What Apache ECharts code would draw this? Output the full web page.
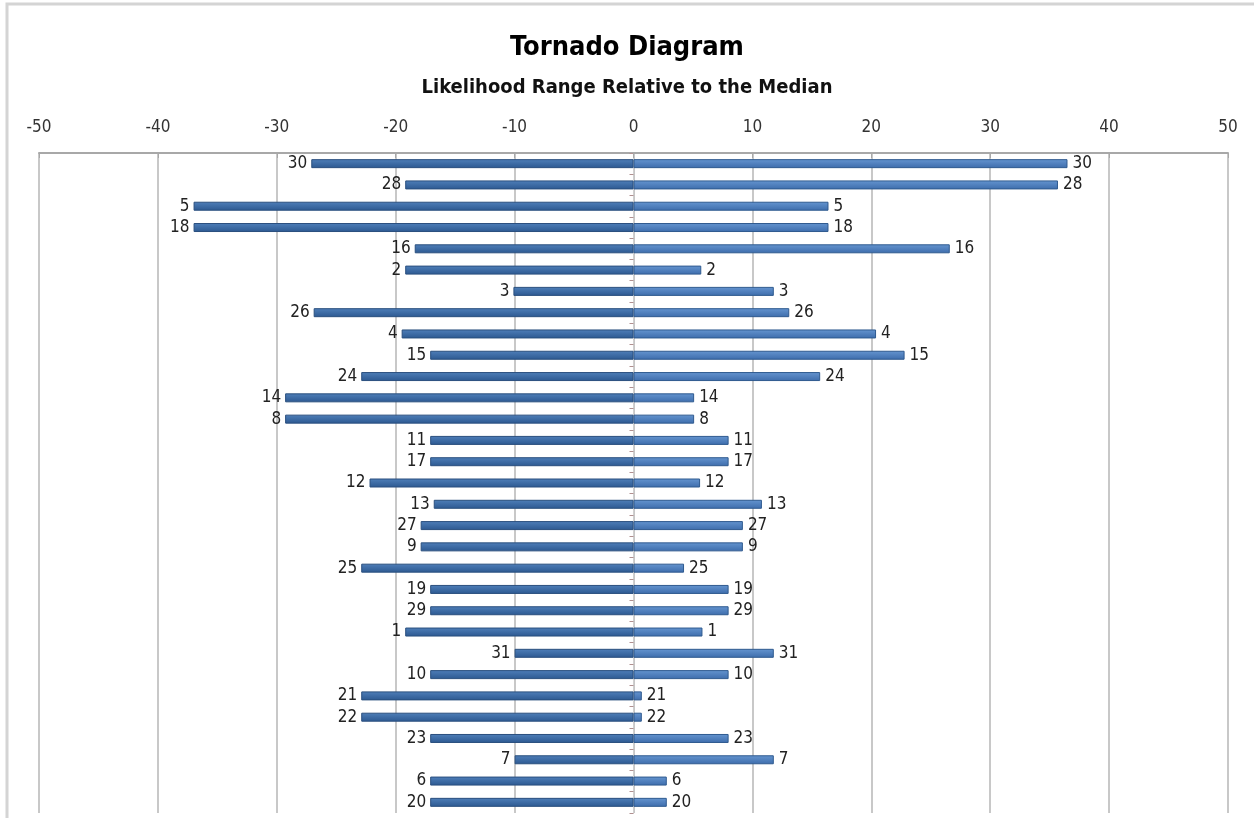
<!DOCTYPE html>
<html>
<head>
<meta charset="utf-8">
<title>Tornado Diagram</title>
<script src="https://cdn.jsdelivr.net/npm/echarts@6/dist/echarts.min.js"></script>
<style>
    html, body { margin: 0; padding: 0; background: #fff; }
    #tornado { width: 1254px; height: 818px; }
</style>
</head>
<body>
<div id="tornado"></div>
<script>
// row ids, top to bottom
var rows = ['30', '28', '5', '18', '16', '2', '3', '26', '4', '15', '24', '14', '8', '11', '17', '12',
    '13', '27', '9', '25', '19', '29', '1', '31', '10', '21', '22', '23', '7', '6', '20'];

// low side (relative to the median)
var lowValues = [-27.1, -19.2, -37.0, -37.0, -18.4, -19.2, -10.1, -26.9, -19.5, -17.1, -22.9, -29.3, -29.3, -17.1, -17.1, -22.2,
    -16.8, -17.9, -17.9, -22.9, -17.1, -17.1, -19.2, -10.0, -17.1, -22.9, -22.9, -17.1, -10.0, -17.1, -17.1];

// high side (relative to the median)
var highValues = [36.5, 35.7, 16.4, 16.4, 26.6, 5.7, 11.8, 13.1, 20.4, 22.8, 15.7, 5.1, 5.1, 8.0, 8.0, 5.6,
    10.8, 9.2, 9.2, 4.25, 8.0, 8.0, 5.8, 11.8, 8.0, 0.7, 0.7, 8.0, 11.8, 2.8, 2.8];

var axisTicks = [-50, 50, 10]; // min, max, step

document.addEventListener('DOMContentLoaded', () => {
    var chart = echarts.init(document.getElementById('tornado'));
    var font = "'DejaVu Sans Condensed', 'Liberation Sans Narrow', sans-serif";

    var option = {
        backgroundColor: '#ffffff',
        animation: false,
        textStyle: { fontFamily: font },
        // outer frame (cut off on the right and bottom, like the picture)
        graphic: [{
            type: 'rect',
            shape: { x: 7, y: 4, width: 1300, height: 900 },
            style: { fill: 'none', stroke: '#d4d4d4', lineWidth: 3 },
            silent: true
        }],
        title: [
            {
                text: 'Tornado Diagram',
                left: 'center',
                top: 29,
                textStyle: { fontSize: 27, fontWeight: 'bold', color: '#000', fontFamily: font }
            },
            {
                text: 'Likelihood Range Relative to the Median',
                left: 'center',
                top: 73,
                textStyle: { fontSize: 20, fontWeight: 'bold', color: '#111', fontFamily: font }
            }
        ],
        grid: { left: 39, right: 26, top: 153, bottom: 5 },
        xAxis: {
            type: 'value',
            position: 'top',
            min: axisTicks[0],
            max: axisTicks[1],
            interval: axisTicks[2],
            axisLine: { show: true, lineStyle: { color: '#a8a8a8', width: 2 } },
            axisTick: { show: true, inside: true, length: 5, lineStyle: { color: '#a8a8a8' } },
            axisLabel: { fontSize: 17, color: '#333', margin: 17, fontFamily: font },
            splitLine: { show: true, lineStyle: { color: '#c8c8c8', width: 2 } }
        },
        yAxis: {
            type: 'category',
            inverse: true,
            data: rows,
            axisLine: { show: true, onZero: true, lineStyle: { color: '#d0d0d0', width: 1 } },
            axisTick: { show: true, length: 4, lineStyle: { color: '#b09090' } },
            axisLabel: { show: false },
            splitLine: { show: false }
        },
        series: [
            {
                name: 'Low',
                type: 'bar',
                data: lowValues,
                barWidth: 9,
                barGap: '-100%',
                itemStyle: {
                    color: new echarts.graphic.LinearGradient(0, 0, 0, 1, [
                        { offset: 0, color: '#4f7fb9' },
                        { offset: 1, color: '#2c5890' }
                    ]),
                    borderColor: '#2a4f7e',
                    borderWidth: 1
                },
                label: {
                    show: true,
                    position: 'left',
                    distance: 4,
                    fontSize: 17,
                    color: '#222',
                    fontFamily: font,
                    formatter: function (p) { return p.name; }
                }
            },
            {
                name: 'High',
                type: 'bar',
                data: highValues,
                barWidth: 9,
                itemStyle: {
                    color: new echarts.graphic.LinearGradient(0, 0, 0, 1, [
                        { offset: 0, color: '#6595d0' },
                        { offset: 1, color: '#3d6cab' }
                    ]),
                    borderColor: '#2f5a8f',
                    borderWidth: 1
                },
                label: {
                    show: true,
                    position: 'right',
                    distance: 5,
                    fontSize: 17,
                    color: '#222',
                    fontFamily: font,
                    formatter: function (p) { return p.name; }
                }
            }
        ]
    };

    chart.setOption(option);
});
</script>
</body>
</html>
